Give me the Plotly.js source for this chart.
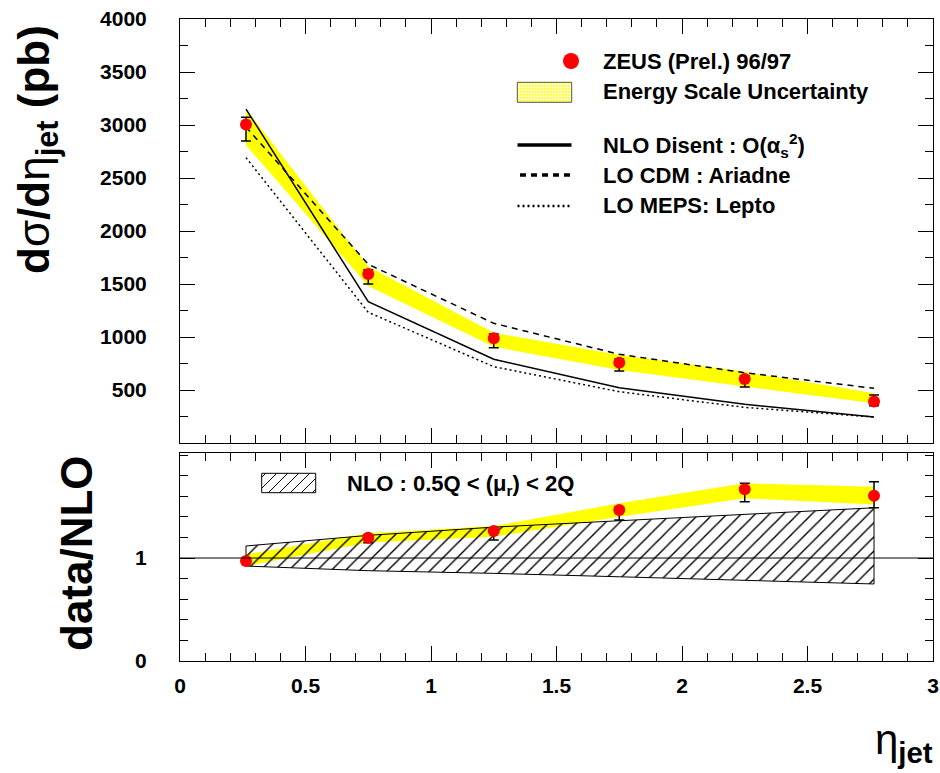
<!DOCTYPE html>
<html>
<head>
<meta charset="utf-8">
<script src="https://cdn.plot.ly/plotly-3.0.1.min.js"></script>
<style>html,body{margin:0;padding:0;background:#fff;}#chart{width:940px;height:773px;}</style>
</head>
<body>
<div id="chart"></div>
<script>
// ---- data ----
const eta = [0.263, 0.75, 1.25, 1.75, 2.25, 2.765];

// top panel: d sigma / d eta_jet (pb)
const zeus = [3005, 1594, 988, 758, 604, 392];
const zeusErrPlus = [68, 40, 40, 35, 30, 60];
const zeusErrMinus = [155, 94, 89, 79, 76, 40];
const escHigh = [3150, 1665, 1040, 830, 673, 469];
const escLow = [2810, 1480, 908, 689, 531, 374];
const nloDisent = [3150, 1333, 790, 522, 365, 245];
const ariadne = [2980, 1686, 1129, 837, 663, 516];
const lepto = [2692, 1233, 720, 484, 336, 245];

// bottom panel: data / NLO
const ratio = [0.971, 1.197, 1.262, 1.466, 1.667, 1.605];
const ratioErrPlus = [0.02, 0.03, 0.03, 0.03, 0.059, 0.136];
const ratioErrMinus = [0.02, 0.048, 0.087, 0.097, 0.12, 0.117];
const ratioEscHigh = [1.036, 1.24, 1.31, 1.531, 1.726, 1.693];
const ratioEscLow = [0.922, 1.15, 1.207, 1.40, 1.58, 1.521];
const scaleHigh = [1.117, 1.22, 1.30, 1.36, 1.425, 1.488];
const scaleLow = [0.922, 0.877, 0.851, 0.818, 0.786, 0.748];

const xTickVals = [0, 0.5, 1, 1.5, 2, 2.5, 3];
const xTickText = ['0', '0.5', '1', '1.5', '2', '2.5', '3'];
const yTickVals = [500, 1000, 1500, 2000, 2500, 3000, 3500, 4000];
const y2TickVals = [0, 1];

// ---- helpers ----
function band(hi, lo) {
  return { x: eta.concat(eta.slice().reverse()), y: hi.concat(lo.slice().reverse()) };
}
// pixel -> paper conversion for legend decorations (plot area 180..933 x 19..661)
const L = 180, R = 933, T = 19, B = 661;
function pxX(p) { return (p - L) / (R - L); }
function pxY(p) { return (B - p) / (B - T); }

const tickFont = { family: 'Liberation Sans, Arial, sans-serif', size: 21, color: '#000', weight: 'bold' };
const txtFont = { family: 'Liberation Sans, Arial, sans-serif', size: 22, color: '#000', weight: 'bold' };

const b1 = band(escHigh, escLow);
const b2 = band(ratioEscHigh, ratioEscLow);
const b3 = band(scaleHigh, scaleLow);

const traces = [
  { x: b1.x, y: b1.y, xaxis: 'x', yaxis: 'y', mode: 'lines', fill: 'toself', fillcolor: '#ffff00',
    line: { width: 0, color: '#ffff00' }, hoverinfo: 'skip', showlegend: false },
  { x: eta, y: nloDisent, xaxis: 'x', yaxis: 'y', mode: 'lines', line: { color: '#000', width: 1.5 }, showlegend: false },
  { x: eta, y: ariadne, xaxis: 'x', yaxis: 'y', mode: 'lines', line: { color: '#000', width: 1.5, dash: '6px,5px' }, showlegend: false },
  { x: eta, y: lepto, xaxis: 'x', yaxis: 'y', mode: 'lines', line: { color: '#000', width: 1.5, dash: '2px,3px' }, showlegend: false },
  { x: eta, y: zeus, xaxis: 'x', yaxis: 'y', mode: 'markers', marker: { color: '#ff0000', size: 12 },
    error_y: { type: 'data', symmetric: false, array: zeusErrPlus, arrayminus: zeusErrMinus, color: '#000', thickness: 1.5, width: 5 },
    showlegend: false },

  { x: b2.x, y: b2.y, xaxis: 'x2', yaxis: 'y2', mode: 'lines', fill: 'toself', fillcolor: '#ffff00',
    line: { width: 0, color: '#ffff00' }, hoverinfo: 'skip', showlegend: false },
  { x: b3.x.concat([b3.x[0]]), y: b3.y.concat([b3.y[0]]), xaxis: 'x2', yaxis: 'y2', mode: 'lines', fill: 'toself',
    fillcolor: 'rgba(0,0,0,0)', fillpattern: { shape: '/', fgcolor: '#000', size: 10, solidity: 0.14 },
    line: { width: 1, color: '#000' }, hoverinfo: 'skip', showlegend: false },
  { x: eta, y: ratio, xaxis: 'x2', yaxis: 'y2', mode: 'markers', marker: { color: '#ff0000', size: 12 },
    error_y: { type: 'data', symmetric: false, array: ratioErrPlus, arrayminus: ratioErrMinus, color: '#000', thickness: 1.5, width: 5 },
    showlegend: false }
];

// legend decorations
const shapes = [];
// red dot
shapes.push({ type: 'circle', xref: 'paper', yref: 'paper', xsizemode: 'pixel', ysizemode: 'pixel',
  xanchor: pxX(571), yanchor: pxY(61), x0: -8, x1: 8, y0: -8, y1: 8, fillcolor: '#ff0000', line: { width: 0 } });
// yellow grid box
const gx0 = 517.3, gx1 = 571.7, gy0 = 82.3, gy1 = 102.3;
shapes.push({ type: 'rect', xref: 'paper', yref: 'paper', x0: pxX(gx0), x1: pxX(gx1), y0: pxY(gy1), y1: pxY(gy0),
  fillcolor: '#ffff30', line: { width: 0 } });
let gpath = '';
for (let x = gx0 + 2; x < gx1; x += 3) gpath += 'M' + pxX(x) + ',' + pxY(gy0) + 'L' + pxX(x) + ',' + pxY(gy1);
for (let y = gy0 + 2; y < gy1; y += 3) gpath += 'M' + pxX(gx0) + ',' + pxY(y) + 'L' + pxX(gx1) + ',' + pxY(y);
shapes.push({ type: 'path', xref: 'paper', yref: 'paper', path: gpath, line: { color: 'rgba(255,255,255,0.75)', width: 1 } });
shapes.push({ type: 'rect', xref: 'paper', yref: 'paper', x0: pxX(gx0), x1: pxX(gx1), y0: pxY(gy1), y1: pxY(gy0),
  line: { color: '#555', width: 1 } });
// line samples
shapes.push({ type: 'line', xref: 'paper', yref: 'paper', x0: pxX(517.5), x1: pxX(571.5), y0: pxY(145), y1: pxY(145), line: { color: '#000', width: 3.5 } });
shapes.push({ type: 'line', xref: 'paper', yref: 'paper', x0: pxX(520), x1: pxX(571.5), y0: pxY(175), y1: pxY(175), line: { color: '#000', width: 3.5, dash: '6px,5px' } });
shapes.push({ type: 'line', xref: 'paper', yref: 'paper', x0: pxX(517.5), x1: pxX(571.5), y0: pxY(206), y1: pxY(206), line: { color: '#000', width: 2.5, dash: '2px,3px' } });
// hatched box (bottom panel legend)
const hx0 = 261.7, hx1 = 315.7, hy0 = 473.3, hy1 = 492.7, hh = hy1 - hy0;
let hpath = '';
for (let c = hx0 - hh + 4; c < hx1; c += 11) {
  const xs = Math.max(c, hx0), xe = Math.min(c + hh, hx1);
  if (xs < xe) hpath += 'M' + pxX(xs) + ',' + pxY(hy1 - (xs - c)) + 'L' + pxX(xe) + ',' + pxY(hy1 - (xe - c));
}
shapes.push({ type: 'path', xref: 'paper', yref: 'paper', path: hpath, line: { color: '#000', width: 1 } });
shapes.push({ type: 'rect', xref: 'paper', yref: 'paper', x0: pxX(hx0), x1: pxX(hx1), y0: pxY(hy1), y1: pxY(hy0), line: { color: '#000', width: 1 } });
// ratio = 1 reference line
shapes.push({ type: 'line', xref: 'x2 domain', yref: 'y2', x0: 0, x1: 1, y0: 1, y1: 1, line: { color: '#000', width: 1 }, layer: 'above' });

const annotations = [
  { text: 'ZEUS (Prel.) 96/97', xref: 'paper', yref: 'paper', x: pxX(601), y: pxY(61), xanchor: 'left', yanchor: 'middle', showarrow: false, font: txtFont },
  { text: 'Energy Scale Uncertainty', xref: 'paper', yref: 'paper', x: pxX(601), y: pxY(92), xanchor: 'left', yanchor: 'middle', showarrow: false, font: txtFont },
  { text: 'NLO Disent : O(α<sub>s</sub><sup>2</sup>)', xref: 'paper', yref: 'paper', x: pxX(601), y: pxY(145), xanchor: 'left', yanchor: 'middle', showarrow: false, font: txtFont },
  { text: 'LO CDM : Ariadne', xref: 'paper', yref: 'paper', x: pxX(601), y: pxY(175), xanchor: 'left', yanchor: 'middle', showarrow: false, font: txtFont },
  { text: 'LO MEPS: Lepto', xref: 'paper', yref: 'paper', x: pxX(601), y: pxY(206), xanchor: 'left', yanchor: 'middle', showarrow: false, font: txtFont },
  { text: 'NLO : 0.5Q &lt; (μ<sub>r</sub>) &lt; 2Q', xref: 'paper', yref: 'paper', x: pxX(345), y: pxY(485), xanchor: 'left', yanchor: 'middle', showarrow: false, font: txtFont },
  { text: '<b>d</b>σ<b>/d</b>η<sub><b>jet</b></sub><b> (pb)</b>', xref: 'paper', yref: 'paper', x: pxX(37), y: pxY(150), xanchor: 'center', yanchor: 'middle', textangle: -90, showarrow: false,
    font: { family: 'Liberation Sans, Arial, sans-serif', size: 44, color: '#000' } },
  { text: '<b>data/NLO</b>', xref: 'paper', yref: 'paper', x: pxX(76), y: pxY(553), xanchor: 'center', yanchor: 'middle', textangle: -90, showarrow: false,
    font: { family: 'Liberation Sans, Arial, sans-serif', size: 44, color: '#000' } },
  { text: 'η<sub><b>jet</b></sub>', xref: 'paper', yref: 'paper', x: pxX(935), y: pxY(743), xanchor: 'right', yanchor: 'middle', showarrow: false,
    font: { family: 'Liberation Sans, Arial, sans-serif', size: 42, color: '#000' } }
];

const axCommon = { showline: true, linecolor: '#000', linewidth: 1, mirror: 'ticks', ticks: 'inside', ticklen: 15, tickwidth: 1,
  tickcolor: '#000', showgrid: false, zeroline: false, tickfont: tickFont };

const layout = {
  width: 940, height: 773,
  margin: { l: L, r: 940 - R, t: T, b: 773 - B },
  paper_bgcolor: '#fff', plot_bgcolor: '#fff',
  showlegend: false,
  xaxis: Object.assign({}, axCommon, { domain: [0, 1], anchor: 'y', range: [0, 3], tickvals: xTickVals, showticklabels: false,
    minor: { ticks: 'inside', dtick: 0.1, ticklen: 8, tickcolor: '#000', tickwidth: 1, showgrid: false } }),
  yaxis: Object.assign({}, axCommon, { domain: [pxY(443), 1], anchor: 'x', range: [0, 4000], tickvals: yTickVals, ticklabelstandoff: 28,
    minor: { ticks: 'inside', dtick: 250, ticklen: 8, tickcolor: '#000', tickwidth: 1, showgrid: false } }),
  xaxis2: Object.assign({}, axCommon, { domain: [0, 1], anchor: 'y2', range: [0, 3], tickvals: xTickVals, ticktext: xTickText, ticklabelstandoff: 6,
    minor: { ticks: 'inside', dtick: 0.1, ticklen: 8, tickcolor: '#000', tickwidth: 1, showgrid: false } }),
  yaxis2: Object.assign({}, axCommon, { domain: [0, pxY(453)], anchor: 'x2', range: [0, 2.02], tickvals: y2TickVals, ticklabelstandoff: 28,
    minor: { ticks: 'inside', dtick: 0.2, ticklen: 8, tickcolor: '#000', tickwidth: 1, showgrid: false } }),
  shapes: shapes,
  annotations: annotations
};

Plotly.newPlot('chart', traces, layout, { staticPlot: true, displayModeBar: false });
</script>
</body>
</html>
